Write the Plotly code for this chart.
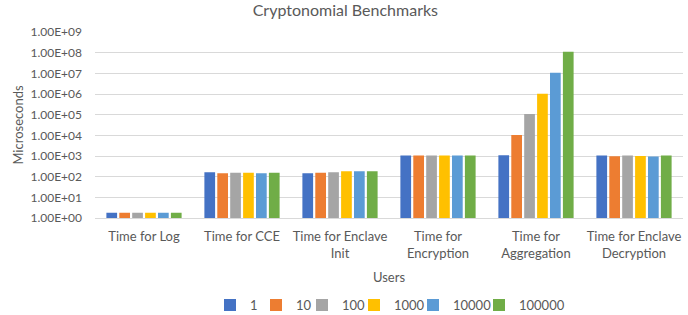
import plotly.graph_objects as go

categories = ["Time for Log", "Time for CCE", "Time for Enclave<br>Init",
              "Time for<br>Encryption", "Time for<br>Aggregation",
              "Time for Enclave<br>Decryption"]
series_names = ["1", "10", "100", "1000", "10000", "100000"]
s1 = [1.8, 162, 145, 1070, 1100, 1070]
s10 = [1.8, 145, 155, 1050, 10500, 960]
s100 = [1.8, 155, 162, 1060, 107000, 1070]
s1000 = [1.8, 155, 182, 1050, 1030000, 1000]
s10000 = [1.8, 145, 182, 1050, 10700000, 940]
s100000 = [1.8, 155, 185, 1060, 110000000, 1070]
series_values = [s1, s10, s100, s1000, s10000, s100000]
colors = ["#4472C4", "#ED7D31", "#A5A5A5", "#FFC000", "#5B9BD5", "#70AD47"]
legend_widths = [1, 1, 7, 14, 21, 44]
tick_vals = [1e0, 1e1, 1e2, 1e3, 1e4, 1e5, 1e6, 1e7, 1e8, 1e9]
tick_text = ["1.00E+00", "1.00E+01", "1.00E+02", "1.00E+03", "1.00E+04",
             "1.00E+05", "1.00E+06", "1.00E+07", "1.00E+08", "1.00E+09"]

font_family = "Lato, 'Liberation Sans', sans-serif"
grey = "#595959"

fig = go.Figure()
for name, vals, col, lw in zip(series_names, series_values, colors, legend_widths):
    fig.add_trace(go.Bar(name=name, x=categories, y=vals, marker_color=col,
                         marker_line_width=0, legendwidth=lw))

fig.update_layout(
    width=688, height=315,
    barmode="group", bargap=0.21, bargroupgap=0.17,
    plot_bgcolor="white", paper_bgcolor="white",
    margin=dict(l=95, r=5, t=32, b=97, autoexpand=False),
    font=dict(family=font_family, color=grey, size=12),
    title=dict(text="Cryptonomial Benchmarks", x=0.502, xanchor="center",
               yref="container", y=0.968, yanchor="middle",
               font=dict(size=16, color=grey)),
    legend=dict(orientation="h", x=0.5, xanchor="center", y=-0.468,
                yanchor="middle", font=dict(size=13, color=grey),
                traceorder="normal", itemwidth=30),
    xaxis=dict(title=dict(text="Users", font=dict(size=13, color=grey), standoff=13),
               showline=True, linecolor="#D9D9D9", tickfont=dict(size=13, color=grey),
               ticks="", ticklabelstandoff=6, automargin=False),
    yaxis=dict(type="log", range=[0, 9], tickvals=tick_vals, ticktext=tick_text,
               showgrid=True, gridcolor="#D9D9D9", zeroline=False,
               tickfont=dict(size=12, color=grey), ticks="", ticklabelstandoff=12,
               automargin=False,
               title=dict(text="Microseconds", font=dict(size=13, color=grey), standoff=3)),
)

fig.write_html("out.html", config={"displayModeBar": False},
               post_script="document.body.style.margin='0';")
